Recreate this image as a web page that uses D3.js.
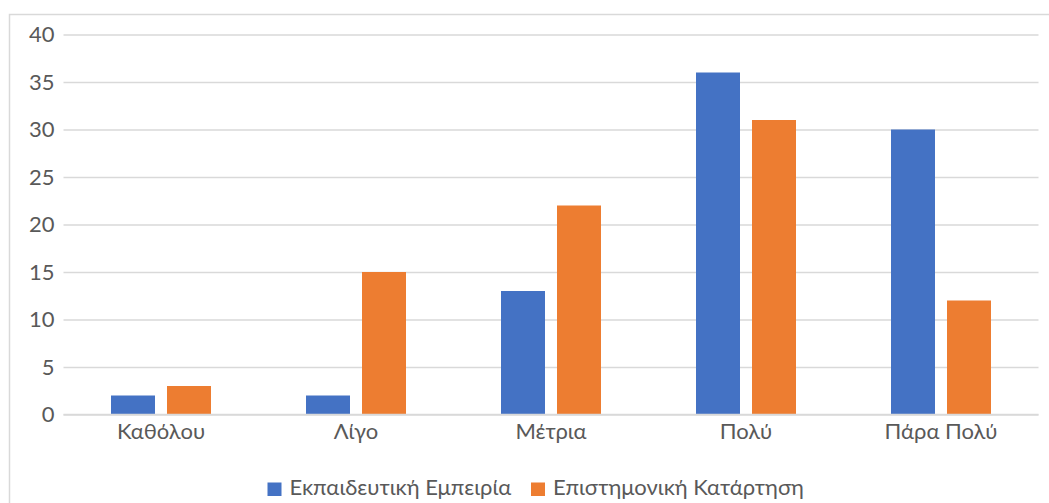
<!DOCTYPE html>
<html>
<head>
<meta charset="utf-8">
<script src="https://cdn.jsdelivr.net/npm/d3@7"></script>
<style>
  html, body { margin: 0; padding: 0; background: #fff; }
  svg { display: block; }
  text { font-family: Lato, "Open Sans", sans-serif; fill: #595959; }
</style>
</head>
<body>
<svg id="chart" width="1049" height="503"></svg>
<script>
// Survey answers per level of agreement
const categories = ["Καθόλου", "Λίγο", "Μέτρια", "Πολύ", "Πάρα Πολύ"];
const seriesNames = ["Εκπαιδευτική Εμπειρία", "Επιστημονική Κατάρτηση"];
const experience = [2, 2, 13, 36, 30];
const training = [3, 15, 22, 31, 12];
const yTicks = [0, 5, 10, 15, 20, 25, 30, 35, 40];
const colors = ["#4472C4", "#ED7D31"];

const seriesValues = [experience, training];
const rows = categories.map((c, i) => ({
  category: c,
  values: seriesNames.map((s, j) => ({ series: s, value: seriesValues[j][i] }))
}));

const svg = d3.select("#chart");
const W = 1049, H = 503;
const FONT = 22;

// Outer chart frame
svg.append("rect")
  .attr("x", 9.5).attr("y", 14.5)
  .attr("width", W + 10).attr("height", H + 10)
  .attr("fill", "#fff").attr("stroke", "#d9d9d9").attr("stroke-width", 1.5);

const plot = { left: 63.5, right: 1038.5, top: 34.5, bottom: 414.5 };

const x0 = d3.scaleBand().domain(categories).range([plot.left, plot.right]).paddingInner(0).paddingOuter(0);
const x1 = d3.scaleBand().domain(seriesNames).range([47.5, 147.5]).paddingInner(12 / 56).paddingOuter(0);
const y = d3.scaleLinear().domain([0, 40]).range([plot.bottom, plot.top]);

// Horizontal gridlines and value labels
const yAxis = d3.axisLeft(y).tickValues(yTicks).tickSize(-(plot.right - plot.left)).tickPadding(9);
const gy = svg.append("g").attr("transform", `translate(${plot.left},0)`).call(yAxis);
gy.select(".domain").remove();
gy.selectAll(".tick line").attr("stroke", "#d9d9d9").attr("stroke-width", 1.3);
gy.selectAll(".tick text").attr("font-size", FONT).attr("fill", "#595959")
  .style("font-family", "Lato, 'Open Sans', sans-serif");

// Bars
const groups = svg.append("g").selectAll("g").data(rows).join("g")
  .attr("transform", d => `translate(${x0(d.category)},0)`);
groups.selectAll("rect").data(d => d.values).join("rect")
  .attr("x", d => x1(d.series))
  .attr("width", x1.bandwidth())
  .attr("y", d => y(d.value))
  .attr("height", d => y(0) - y(d.value))
  .attr("fill", (d, i) => colors[i]);

// Baseline redrawn over the bars' feet
svg.append("line")
  .attr("x1", plot.left).attr("x2", plot.right)
  .attr("y1", y(0)).attr("y2", y(0))
  .attr("stroke", "#d9d9d9").attr("stroke-width", 1.3);

// Category labels
const xAxis = d3.axisBottom(x0).tickSize(0).tickPadding(9);
const gx = svg.append("g").attr("transform", `translate(0,${plot.bottom})`).call(xAxis);
gx.select(".domain").remove();
gx.selectAll(".tick text").attr("font-size", FONT).attr("fill", "#595959")
  .style("font-family", "Lato, 'Open Sans', sans-serif");

// Legend
const legend = svg.append("g").attr("transform", "translate(267.5,482.5)");
const itemX = [0, 263.5];
seriesNames.forEach((name, i) => {
  const g = legend.append("g").attr("transform", `translate(${itemX[i]},0)`);
  g.append("rect").attr("width", 14).attr("height", 13.5).attr("fill", colors[i]);
  g.append("text").attr("x", 22).attr("y", 12.8).attr("font-size", FONT).text(name);
});
</script>
</body>
</html>
